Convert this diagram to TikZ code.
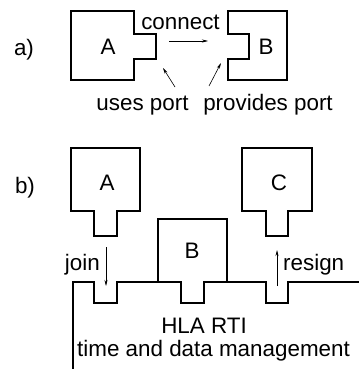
\documentclass[tikz,border=0pt]{standalone}
\usepackage{fontspec}
\setmainfont{Liberation Sans}
\usetikzlibrary{arrows.meta}
\begin{document}
\begin{tikzpicture}[x=1pt,y=-1pt,
  comp/.style={line width=2.6pt, line join=miter},
  lbl/.style={font=\fontsize{22.4}{24}\selectfont, inner sep=0pt, anchor=base},
  ptr/.style={line width=0.6pt, -{Stealth[length=6pt,width=3pt]}}]
\useasboundingbox (0,0) rectangle (359,369);

% ---- a) uses port / provides port ----
\node[lbl] (la) at (24,56) {a)};
\draw[comp] (71,11) -- (134,11) -- (134,34) -- (156,34) -- (156,59) -- (134,59)
  -- (134,80) -- (71,80) -- cycle;
\draw[comp] (228,11) -- (287,11) -- (287,80) -- (228,80) -- (228,59) -- (249,59)
  -- (249,34) -- (228,34) -- cycle;
\node[lbl] (aA) at (108,55) {A};
\node[lbl] (aB) at (266,55) {B};
\node[lbl] (conn) at (180.5,30) {connect};
\node[lbl] (uses) at (142.5,110) {uses port};
\node[lbl] (prov) at (268,110) {provides port};
\coordinate (usesTab) at (169,41);
\coordinate (provNotch) at (208,41);
\coordinate (usesTip) at (163,68);
\coordinate (usesTail) at (175,87);
\coordinate (provTip) at (221,63);
\coordinate (provTail) at (209,86);
\draw[ptr] (usesTab) -- (provNotch);
\draw[ptr] (usesTail) -- (usesTip);
\draw[ptr] (provTail) -- (provTip);

% ---- b) federates on the RTI ----
\node[lbl] (lb) at (25,193) {b)};
\draw[comp] (71,148) -- (140,148) -- (140,211) -- (117,211) -- (117,236) -- (94,236)
  -- (94,211) -- (71,211) -- cycle;
\draw[comp] (242,148) -- (312,148) -- (312,211) -- (288,211) -- (288,236) -- (266,236)
  -- (266,211) -- (242,211) -- cycle;
\draw[comp] (158,219) -- (227,219) -- (227,282) -- (204,282) -- (204,303) -- (181,303)
  -- (181,282) -- (158,282) -- cycle;
% RTI outline with free sockets
\draw[comp] (73,369) -- (73,282) -- (94,282) -- (94,303) -- (117,303) -- (117,282)
  -- (158,282);
\draw[comp] (227,282) -- (266,282) -- (266,303) -- (288,303) -- (288,282) -- (359,282);
\node[lbl] (bA) at (107,190) {A};
\node[lbl] (bC) at (279,190) {C};
\node[lbl] (bB) at (192,258) {B};
\node[lbl, anchor=base east] (join) at (100,270) {join};
\node[lbl, anchor=base west] (resign) at (283,270) {resign};
\node[lbl] (rti) at (204,333) {HLA RTI};
\node[lbl] (tdm) at (213.5,356) {time and data management};
\coordinate (joinFrom) at (106,247);
\coordinate (joinTo) at (106,286);
\coordinate (resFrom) at (277,286);
\coordinate (resTo) at (277,250);
\draw[ptr] (joinFrom) -- (joinTo);
\draw[ptr] (resFrom) -- (resTo);
\end{tikzpicture}
\end{document}
